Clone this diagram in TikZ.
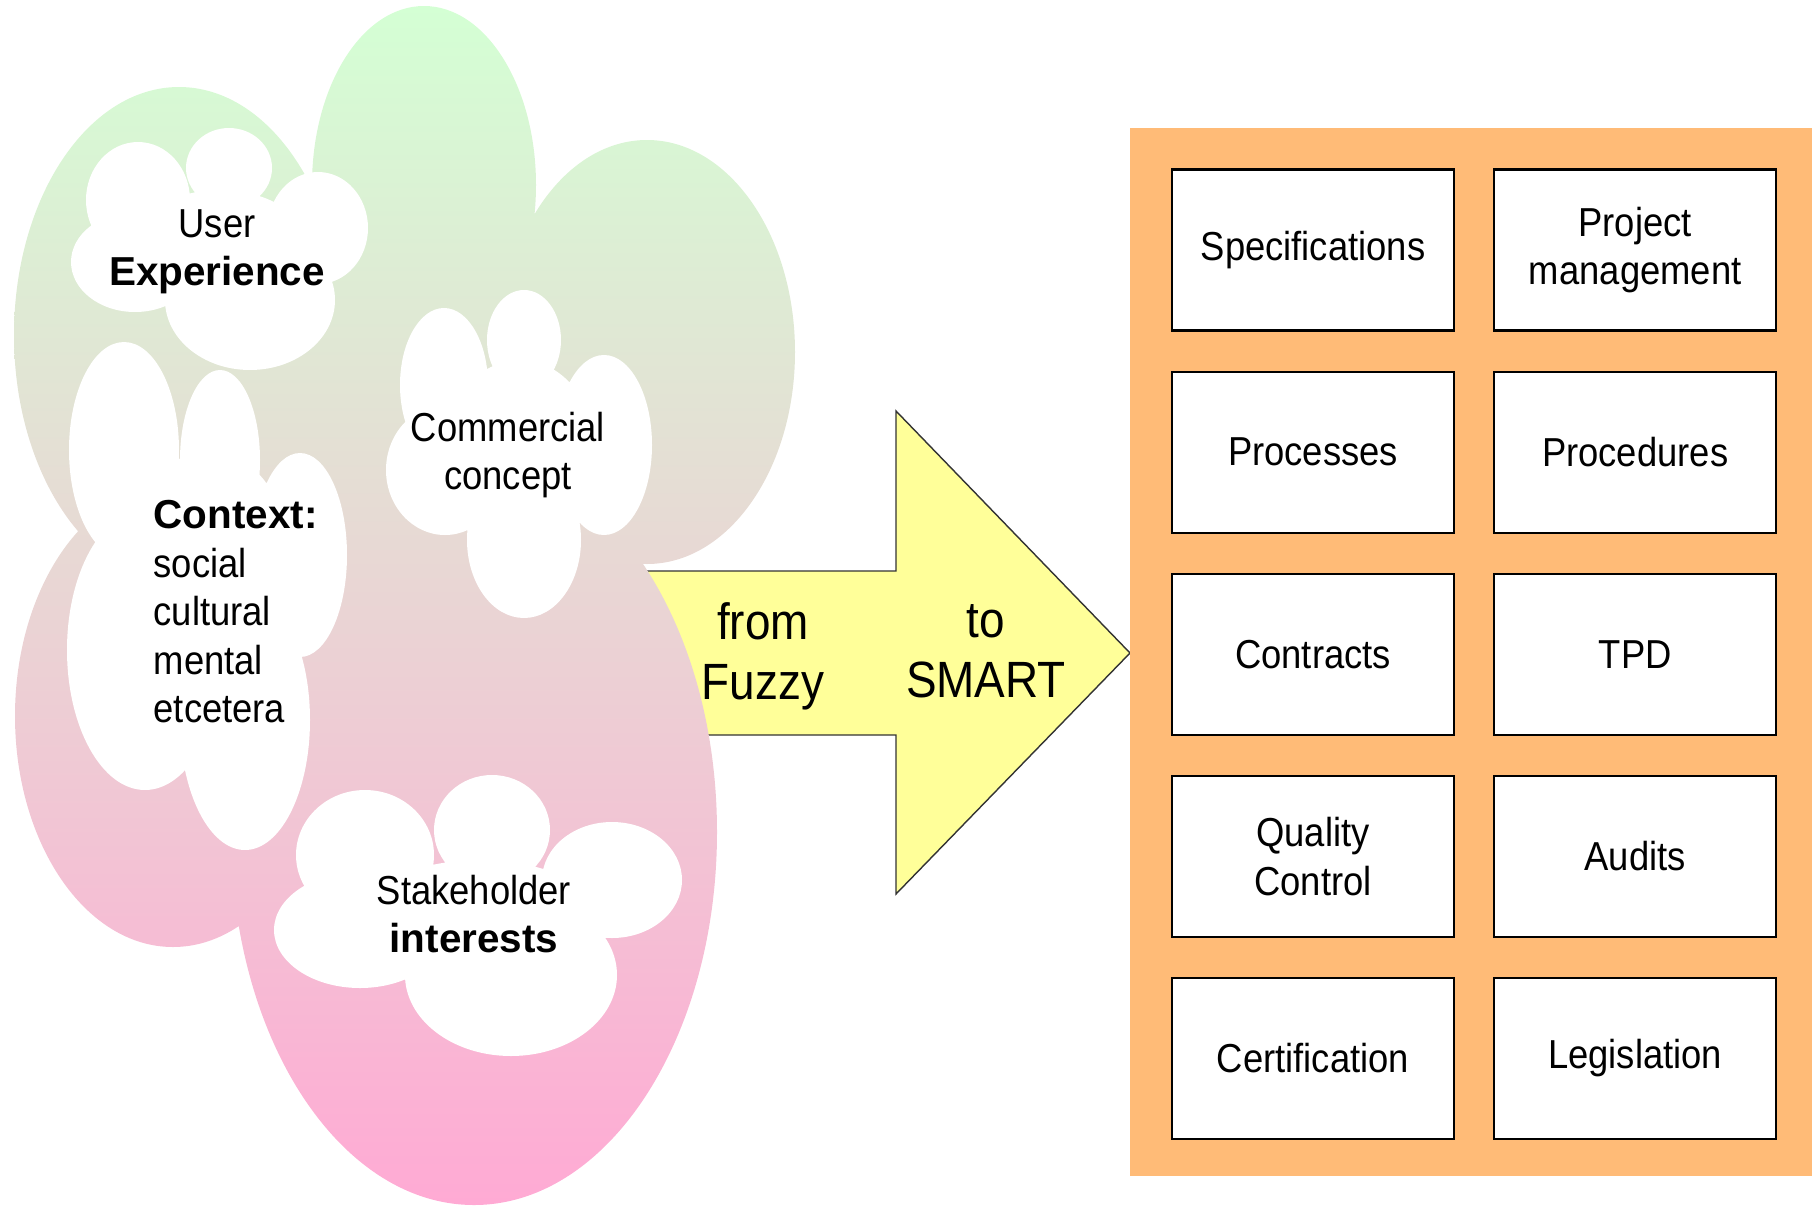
\documentclass[tikz,border=0pt]{standalone}
\usepackage{fontspec}
\setmainfont{Liberation Sans}[UprightFeatures={FakeStretch=0.9}, BoldFeatures={FakeStretch=1.0}]
\usepackage{tikz}
\usepackage{xcolor}
\definecolor{fuzzytop}{RGB}{212,255,212}
\definecolor{fuzzybottom}{RGB}{255,170,212}
\definecolor{smartpanel}{RGB}{255,187,119}
\definecolor{arrowfill}{RGB}{255,255,153}
\tikzstyle{item box}=[
        draw = black,
        line width = 0.6pt,
        fill = white,
        minimum width = 2.82cm,
        minimum height = 1.61cm,
        align = center,
        font = \fontsize{11.5}{13.8}\selectfont
    ]
\tikzstyle{cloud text}=[
    inner sep = 0pt,
    yshift = -0.8mm,
    align = center,
    execute at begin node = \strut,
    execute at end node = \strut,
    font = \fontsize{11.5}{13.8}\selectfont
]
\tikzstyle{arrow text}=[
    inner sep = 0pt,
    yshift = -0.8mm,
    align = center,
    execute at begin node = \strut,
    execute at end node = \strut,
    font = \fontsize{14.5}{17.1}\selectfont
]

\begin{document}
\begin{tikzpicture}[x=0.01cm, y=-0.01cm, node distance={20.2mm}]
        \useasboundingbox (0,0) rectangle (1812,1209);

        % the arrow goes under the big cloud
        \draw[fill=arrowfill, draw=black!80, line width=0.4pt] (640,571) -- (896,571) -- (896,411)
            -- (1130,653) -- (896,894) -- (896,735) -- (640,735) -- cycle;

        % big fuzzy cloud
        \shade[top color=fuzzytop, bottom color=fuzzybottom]
            (424,185) ellipse (112 and 179)
            (179,335) ellipse (165 and 248)
            (647,352) ellipse (148 and 212)
            (173,716) ellipse (158 and 231)
            (474,832) ellipse (243 and 373)
            (439,578) ellipse (200 and 289)
            (380,330) ellipse (100 and 120);

        % white clouds
        \fill[white] (138,200) ellipse (52 and 58) (229,168) ellipse (43 and 40)
            (318,228) ellipse (50 and 56) (250,300) ellipse (85 and 70)
            (135,262) ellipse (64 and 50) (220,250) ellipse (90 and 60);
        \fill[white] (124,450) ellipse (55 and 108) (220,460) ellipse (40 and 90)
            (300,555) ellipse (47 and 102) (145,650) ellipse (78 and 140)
            (245,720) ellipse (65 and 130) (210,600) ellipse (90 and 150);
        \fill[white] (444,385) ellipse (44 and 77) (524,340) ellipse (37 and 50)
            (604,445) ellipse (48 and 90) (445,470) ellipse (59 and 65)
            (524,540) ellipse (57 and 78) (520,450) ellipse (75 and 90);
        \fill[white] (365,855) ellipse (69 and 65) (492,830) ellipse (58 and 55)
            (612,880) ellipse (70 and 58) (360,930) ellipse (86 and 58)
            (511,975) ellipse (106 and 81) (480,920) ellipse (120 and 60);

        \node[cloud text] (user) at (217,247) {User\\\textbf{Experience}};
        \node[cloud text] (commercial) at (508,450) {Commercial\\concept};
        \node[cloud text, align=left, anchor=west] (context) at (153,611)
            {\textbf{Context:}\\social\\cultural\\mental\\etcetera};
        \node[cloud text] (stakeholder) at (474,913) {Stakeholder\\\textbf{interests}};

        \node[arrow text] (from) at (763,652) {from\\Fuzzy};
        \node[arrow text] (to) at (986,652) {to\\SMART};

        % smart panel
        \fill[smartpanel] (1130,128) rectangle (1812,1176);

        \node[item box] (spec) at (1313,250) {Specifications};
        \node[item box] (proc) [below of = spec] {Processes};
        \node[item box] (contr) [below of = proc] {Contracts};
        \node[item box] (qc) [below of = contr] {Quality\\Control};
        \node[item box] (cert) [below of = qc] {Certification};

        \node[item box, node distance={32.2mm}] (pm) [right of = spec] {Project\\management};
        \node[item box, node distance={32.2mm}] (proced) [right of = proc] {Procedures};
        \node[item box, node distance={32.2mm}] (tpd) [right of = contr] {TPD};
        \node[item box, node distance={32.2mm}] (audit) [right of = qc] {Audits};
        \node[item box, node distance={32.2mm}] (legis) [right of = cert] {Legislation};

    \end{tikzpicture}
\end{document}
